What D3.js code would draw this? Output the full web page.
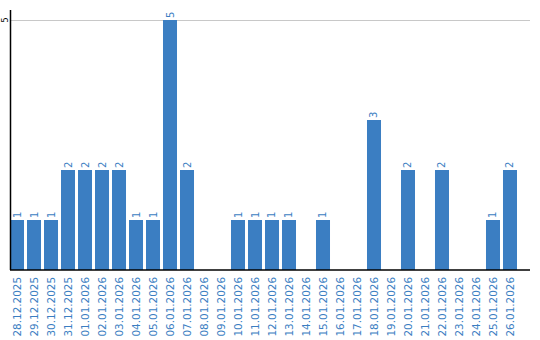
<!DOCTYPE html>
<html>
<head>
<meta charset="utf-8">
<script src="https://cdn.jsdelivr.net/npm/d3@7.9.0/dist/d3.min.js"></script>
<style>
  body { margin: 0; background: #fff; }
  svg { display: block; font-family: "DejaVu Sans", sans-serif; }
</style>
</head>
<body>
<script>
// Dates shown on the x axis
const dates = ["28.12.2025", "29.12.2025", "30.12.2025", "31.12.2025", "01.01.2026", "02.01.2026",
  "03.01.2026", "04.01.2026", "05.01.2026", "06.01.2026", "07.01.2026", "08.01.2026", "09.01.2026",
  "10.01.2026", "11.01.2026", "12.01.2026", "13.01.2026", "14.01.2026", "15.01.2026", "16.01.2026",
  "17.01.2026", "18.01.2026", "19.01.2026", "20.01.2026", "21.01.2026", "22.01.2026", "23.01.2026",
  "24.01.2026", "25.01.2026", "26.01.2026"];
// Count per day
const counts = [1, 1, 1, 2, 2, 2, 2, 1, 1, 5, 2, 0, 0, 1, 1, 1, 1, 0, 1, 0, 0, 3, 0, 2, 0, 2, 0, 0, 1, 2];
// Y tick values
const yTicks = [5];

const width = 540, height = 340;
const margin = { top: 20, right: 20, bottom: 70, left: 10 };
const blue = "#3b7ec2";

const svg = d3.select("body").append("svg")
    .attr("width", width)
    .attr("height", height);

const x = d3.scaleBand()
    .domain(dates)
    .range([margin.left, 517])
    .paddingInner(0.176)
    .paddingOuter(0);

const y = d3.scaleLinear()
    .domain([0, 5])
    .range([height - margin.bottom, margin.top]);

// grid line
svg.append("g")
  .selectAll("line")
  .data(yTicks)
  .join("line")
    .attr("x1", margin.left)
    .attr("x2", width - 10)
    .attr("y1", d => y(d) + 0.5)
    .attr("y2", d => y(d) + 0.5)
    .attr("stroke", "#c8c8c8")
    .attr("stroke-width", 1);

// bars
const rows = counts.map((c, i) => ({ date: dates[i], count: c })).filter(d => d.count > 0);

svg.append("g")
  .selectAll("rect")
  .data(rows)
  .join("rect")
    .attr("x", d => x(d.date))
    .attr("y", d => y(d.count))
    .attr("width", x.bandwidth())
    .attr("height", d => y(0) - y(d.count))
    .attr("fill", blue);

// value labels
svg.append("g")
  .selectAll("text")
  .data(rows)
  .join("text")
    .attr("transform", d => `translate(${x(d.date) + x.bandwidth() / 2 + 3.5},${y(d.count) - 2}) rotate(-90)`)
    .attr("fill", blue)
    .style("font-size", "10px")
    .text(d => d.count);

// y axis
const yAxis = svg.append("g")
    .attr("transform", `translate(${margin.left + 0.5},0)`);
yAxis.append("line")
    .attr("y1", 10)
    .attr("y2", y(0))
    .attr("stroke", "#000")
    .attr("stroke-width", 1.5);
yAxis.selectAll("text")
  .data(yTicks)
  .join("text")
    .attr("transform", d => `translate(-3,${y(d)}) rotate(-90)`)
    .attr("text-anchor", "middle")
    .attr("fill", "#000")
    .style("font-size", "8px")
    .text(d => d);

// x axis
const xAxis = svg.append("g")
    .attr("transform", `translate(0,${y(0)})`)
    .call(d3.axisBottom(x).tickSize(0).tickPadding(0));
xAxis.select(".domain").remove();
xAxis.append("line")
    .attr("x1", margin.left)
    .attr("x2", width - 10)
    .attr("stroke", "#000")
    .attr("stroke-width", 1.5);
xAxis.selectAll(".tick text")
    .attr("transform", "translate(3.6,7) rotate(-90)")
    .attr("text-anchor", "end")
    .attr("dy", 0)
    .attr("y", 0)
    .attr("fill", blue)
    .style("font-size", "10.4px")
    .style("font-family", "DejaVu Sans, sans-serif");
</script>
</body>
</html>
